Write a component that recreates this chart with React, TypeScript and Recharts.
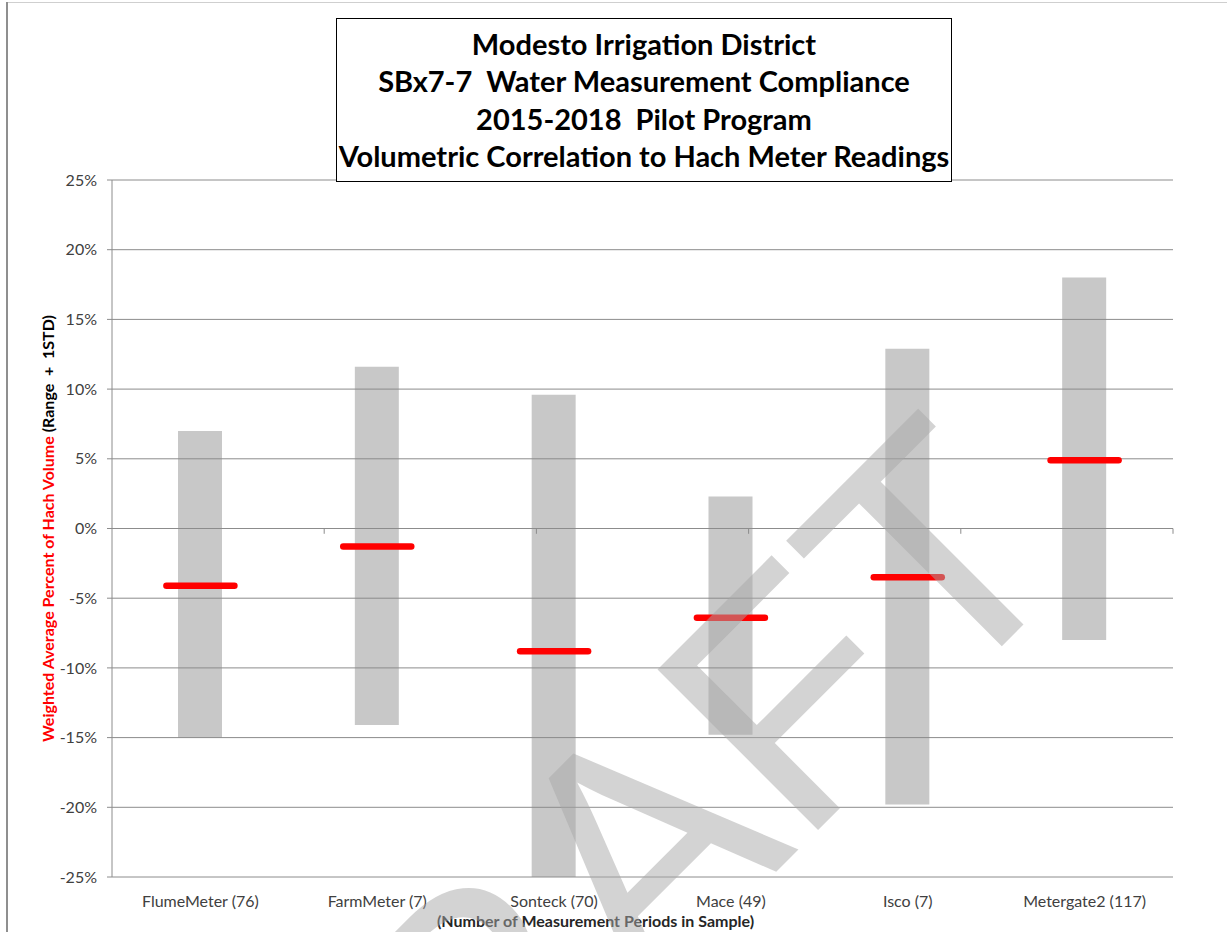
import React from "react";
import {
  ComposedChart, Bar, Line, XAxis, YAxis, CartesianGrid, ReferenceLine,
} from "recharts";

const meters = ["FlumeMeter (76)", "FarmMeter (7)", "Sonteck (70)", "Mace (49)", "Isco (7)", "Metergate2 (117)"];
const rangeHigh = [7.0, 11.6, 9.6, 2.3, 12.9, 18.0];
const rangeLow = [-15.0, -14.1, -25.0, -14.8, -19.8, -8.0];
const weightedAvg = [-4.1, -1.3, -8.8, -6.4, -3.5, 4.9];
const yTicks = [-25, -20, -15, -10, -5, 0, 5, 10, 15, 20, 25];
const edgeTicks = [1, 2, 3, 4, 5, 6];

const data = meters.map((name, i) => ({
  name,
  range: [rangeLow[i], rangeHigh[i]],
  avg: weightedAvg[i],
}));

const FONT = "Lato, 'Open Sans', sans-serif";
const GRID = "#8c8c8c";

function AvgMarker(props: any) {
  const { cx, cy } = props;
  if (cx == null || cy == null) return null;
  return (
    <line x1={cx - 34} x2={cx + 34} y1={cy} y2={cy}
      stroke="#ff0000" strokeWidth={6.5} strokeLinecap="round" />
  );
}

function YTitle(props: any) {
  const vb = props.viewBox || { x: 0, y: 0, width: 0, height: 0 };
  const cx = 47;
  const cy = vb.y + vb.height / 2;
  return (
    <text x={cx} y={cy} transform={`rotate(-90, ${cx}, ${cy})`} textAnchor="middle"
      dominantBaseline="central" fontFamily={FONT} fontWeight={700} fontSize={16}
      style={{ whiteSpace: "pre" }}>
      <tspan fill="#ff0000">Weighted Average Percent of Hach Volume </tspan>
      <tspan fill="#000">(Range  +  1STD)</tspan>
    </text>
  );
}

function XTitle(props: any) {
  const vb = props.viewBox || { x: 0, y: 0, width: 0, height: 0 };
  return (
    <text x={vb.x + vb.width / 2 - 47} y={927} textAnchor="middle"
      fontFamily={FONT} fontWeight={700} fontSize={16} fill="#262626">
      (Number of Measurement Periods in Sample)
    </text>
  );
}

export default function App() {
  return (
    <div style={{ position: "absolute", left: 0, top: 0, width: 1227, height: 932, background: "#fff", overflow: "hidden" }}>
      <div style={{ position: "absolute", left: 6, top: 2, width: 1221, height: 0, borderTop: "1px solid #cfcfcf" }} />
      <div style={{ position: "absolute", left: 6, top: 2, width: 0, height: 930, borderLeft: "2px solid #8f8f8f" }} />

      <ComposedChart width={1227} height={932} data={data}
        margin={{ top: 180, right: 54, bottom: 0, left: 0 }}
        style={{ position: "absolute", left: 0, top: 0 }}>
        <CartesianGrid vertical={false} stroke={GRID} />
        <XAxis xAxisId="cat" dataKey="name" axisLine={false} tickLine={false}
          tickSize={0} tickMargin={19} interval={0} height={55}
          tick={{ fontFamily: FONT, fontSize: 16, fill: "#404040" }}
          label={<XTitle />} />
        <XAxis xAxisId="edge" type="number" domain={[0, 6]} hide />
        <YAxis domain={[-25, 25]} ticks={yTicks} allowDataOverflow width={112}
          interval={0} tickFormatter={(v: number) => `${v}%`}
          stroke={GRID} tickSize={5} tickMargin={10}
          tick={{ fontFamily: FONT, fontSize: 16, fill: "#404040" }}
          label={<YTitle />} />
        <ReferenceLine xAxisId="cat" y={0} stroke={GRID} />
        {edgeTicks.map((t) => (
          <ReferenceLine key={t} xAxisId="edge" stroke={GRID} ifOverflow="visible"
            segment={[{ x: t, y: 0 }, { x: t, y: -0.38 }]} />
        ))}
        <Bar xAxisId="cat" dataKey="range" barSize={44} fill="#8a8a8a" fillOpacity={0.47}
          isAnimationActive={false} />
        <Line xAxisId="cat" dataKey="avg" stroke="none" dot={<AvgMarker />} activeDot={false}
          isAnimationActive={false} />
      </ComposedChart>

      <div style={{
        position: "absolute", left: 336, top: 18, width: 614, height: 156,
        border: "1px solid #000", background: "#fff", textAlign: "center",
        fontFamily: FONT, fontWeight: 700, fontSize: 29, lineHeight: "37.3px",
        color: "#000", paddingTop: 6, boxSizing: "content-box", whiteSpace: "pre",
      }}>
        <div>Modesto Irrigation District</div>
        <div>SBx7-7  Water Measurement Compliance</div>
        <div>2015-2018  Pilot Program</div>
        <div>Volumetric Correlation to Hach Meter Readings</div>
      </div>

      <svg width={1227} height={932} style={{ position: "absolute", left: 0, top: 0, pointerEvents: "none" }}>
        <text x={1084} y={564} textAnchor="end" transform="rotate(-45, 1084, 564)"
          fontFamily="'Liberation Sans', Arial, sans-serif" fontSize={330}
          fill="#a8a8a8" fillOpacity={0.5}>
          DRAFT
        </text>
      </svg>
    </div>
  );
}
